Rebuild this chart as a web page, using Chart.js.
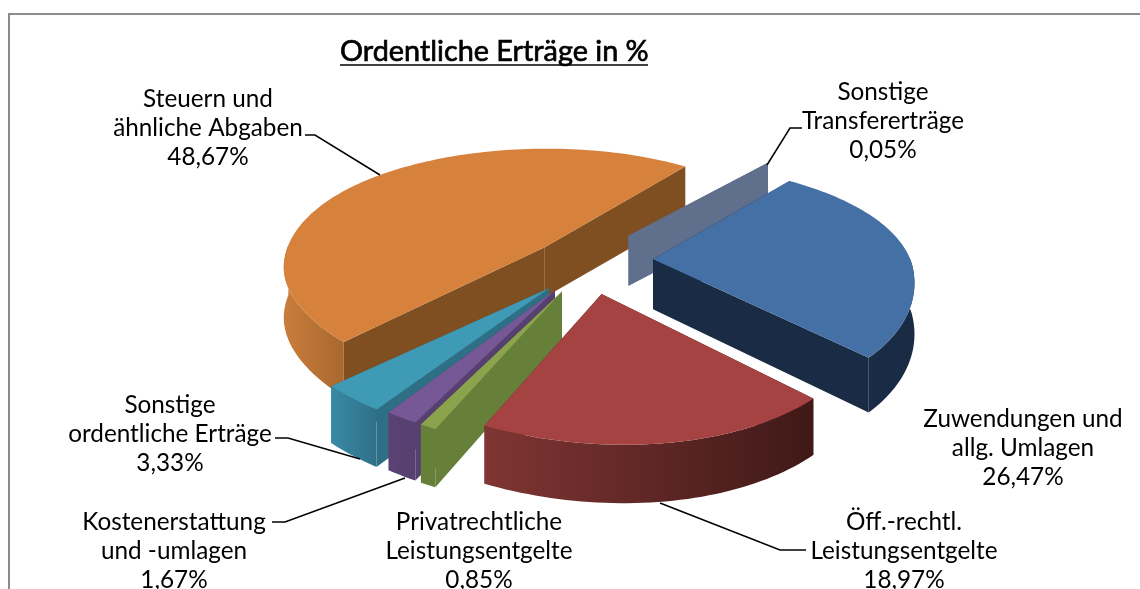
<!DOCTYPE html>
<html><head><meta charset="utf-8">
<style>html,body{margin:0;padding:0;background:#fff}canvas{display:block}</style>
<script src="https://cdn.jsdelivr.net/npm/chart.js@4"></script>
</head><body><canvas id="c" width="1140" height="589"></canvas>
<script>
const chartTitle = "Ordentliche Erträge in %";
const categories = [["Zuwendungen und","allg. Umlagen"],["Öff.-rechtl.","Leistungsentgelte"],["Privatrechtliche","Leistungsentgelte"],["Kostenerstattung","und -umlagen"],["Sonstige","ordentliche Erträge"],["Steuern und","ähnliche Abgaben"],["Sonstige","Transfererträge"]];
const values = [26.47,18.97,0.85,1.67,3.33,48.67,0.05];
const topColors = ["#4470a5","#a54343","#8aa34c","#755895","#3f9ab5","#d6813c","#5f6f8c"];
const explode = [30,27,27,27,28,20,30];
const apexNudge = [-3,6,10,8,13,3,3];
const stretchX = [1,1.015,1,1,1,1.015,1.07];
const stretchY = [1,0.95,1,1,1,1.08,1];
const wallLeft = ["#1a2b45","#7f3533","#667f39","#5a4275","#3a8aa5","#c97d3c","#5f6f8c"];
const wallRight = ["#1a2b45","#3f1917","#667f39","#56406f","#2f7088","#a9682e","#5f6f8c"];
const cutColors = ["#1a2b45","#5a2422","#667f39","#56406f","#2f6f85","#7f4f22","#5f6f8c"];
const paintOrder = [5,6,0,4,3,2,1];
const labelCentres = [[1023,419],[904,522],[479,522],[174,522],[170,405],[208,99],[883,92]];
const leaders = [null,[[660,503],[780,550],[806,550]],null,[[272,522],[285,522],[405,478]],[[275,438],[288,438],[360,459]],[[305,135],[315,135],[380,175]],[[802,128],[790,128],[767,165]]];

const PX = 0.14, PY = 0.19, A = 255, B = 115, D = 50, T = 13;
const shift = {x:-160, y:-72};

const pie3d = {
  id:'pie3d',
  beforeDatasetsDraw(chart){
    const ctx = chart.ctx, meta = chart.getDatasetMeta(0);
    const first = meta.data[0];
    const cx = first.x + shift.x, cy = first.y + shift.y;
    const proj = (X,Y,z)=>[cx+A*X/(1-PX*Y), cy+B*Y/(1-PY*Y)+T*X*Math.max(0,Y)+z*D*(1+0.14*Math.max(0,Y))];
    const poly=(pts,fill)=>{ctx.beginPath();pts.forEach((p,i)=>i?ctx.lineTo(p[0],p[1]):ctx.moveTo(p[0],p[1]));ctx.closePath();ctx.fillStyle=fill;ctx.fill();};
    paintOrder.forEach(i=>{
      const el = meta.data[i];
      const a0 = el.startAngle, a1 = el.endAngle, mid=(a0+a1)/2;
      const d = el.options.offset/100;
      const ox = Math.cos(mid)*d, oy = Math.sin(mid)*d;
      const n = Math.max(2,Math.ceil((a1-a0)*40));
      const rim=[], front=[];
      for(let k=0;k<=n;k++){
        const a=a0+(a1-a0)*k/n, p=[ox+stretchX[i]*Math.cos(a),oy+stretchY[i]*Math.sin(a)];
        rim.push(p);
        if(Math.sin(a)>=-0.02) front.push(p);
      }
      const apexT=proj(ox,oy,0), apexB=proj(ox,oy,1);
      apexT[0]+=apexNudge[i]; apexB[0]+=apexNudge[i];
      const rs=rim[0], re=rim[n];
      poly([apexT,proj(rs[0],rs[1],0),proj(rs[0],rs[1],1),apexB],cutColors[i]);
      poly([apexT,proj(re[0],re[1],0),proj(re[0],re[1],1),apexB],cutColors[i]);
      if(values[i]>0.5 && front.length>1){
        const top=front.map(r=>proj(r[0],r[1],0)), bot=front.map(r=>proj(r[0],r[1],1));
        const xs=top.map(p=>p[0]);
        const g=ctx.createLinearGradient(Math.min(...xs),0,Math.max(...xs),0);
        g.addColorStop(0,wallLeft[i]);g.addColorStop(1,wallRight[i]);
        poly(top.concat(bot.reverse()),g);
      }
      poly([apexT].concat(rim.map(r=>proj(r[0],r[1],0))),el.options.backgroundColor);
    });
    return false;
  },
  afterDraw(chart){
    const ctx=chart.ctx;
    ctx.save();
    ctx.strokeStyle='#000';ctx.lineWidth=0.7;ctx.font='28.8px Lato';ctx.textAlign='left';ctx.textBaseline='middle';
    ctx.strokeText(chartTitle,340,34+28.8*1.2/2);
    ctx.strokeStyle='#8c8c8c';ctx.lineWidth=2;
    ctx.beginPath();ctx.moveTo(9,589);ctx.lineTo(9,14);ctx.lineTo(1140,14);ctx.stroke();
    ctx.strokeStyle='#000';ctx.lineWidth=1.5;
    ctx.beginPath();ctx.moveTo(340,65);ctx.lineTo(648,65);ctx.stroke();
    leaders.forEach(l=>{if(!l)return;ctx.beginPath();l.forEach((p,i)=>i?ctx.lineTo(p[0],p[1]):ctx.moveTo(p[0],p[1]));ctx.stroke();});
    ctx.fillStyle='#000';ctx.font='24.3px Lato';ctx.textAlign='center';ctx.textBaseline='middle';
    categories.forEach((c,i)=>{
      const lines=c.concat([values[i].toFixed(2).replace('.',',')+'%']);
      lines.forEach((t,k)=>ctx.fillText(t,labelCentres[i][0],labelCentres[i][1]+k*29));
    });
    ctx.restore();
  }
};

new Chart(document.getElementById('c'),{
  type:'pie',
  data:{labels:categories,datasets:[{data:values,backgroundColor:topColors,offset:explode,borderWidth:0}]},
  plugins:[pie3d],
  options:{
    responsive:false,animation:false,rotation:38,
    layout:{padding:{left:340}},
    plugins:{
      legend:{display:false},tooltip:{enabled:false},
      title:{display:true,text:chartTitle,align:'start',color:'#000',font:{family:'Lato',size:28.8,weight:'normal'},padding:{top:34,bottom:10}}
    }
  }
});
</script></body></html>
